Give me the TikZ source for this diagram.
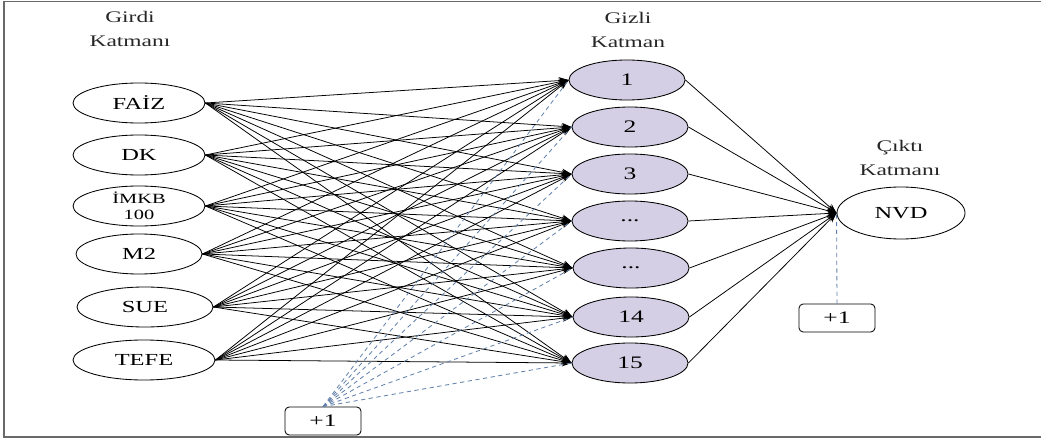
\documentclass[tikz,border=0pt]{standalone}
\usepackage{fontspec}
\setmainfont[FakeStretch=1.45]{Liberation Serif}
\usetikzlibrary{arrows.meta,shapes.geometric}
\definecolor{hidfill}{RGB}{212,207,228}
\definecolor{biasline}{RGB}{100,130,172}
\definecolor{framegray}{RGB}{105,105,105}
\tikzset{
  inpnode/.style={draw, ellipse, line width=0.6pt, minimum width=3.3cm, minimum height=1cm, inner sep=0pt, font=\fontsize{12}{13}\selectfont},
  hidnode/.style={draw, ellipse, line width=0.6pt, fill=hidfill, minimum width=2.9cm, minimum height=1cm, inner sep=0pt, font=\fontsize{12.5}{13}\selectfont},
  outnode/.style={draw, ellipse, line width=0.6pt, minimum width=3.2cm, minimum height=1.3cm, inner sep=0pt, font=\fontsize{12}{13}\selectfont},
  biasbox/.style={draw, rounded corners=3pt, line width=0.6pt, minimum width=1.9cm, minimum height=0.7cm, inner sep=0pt, font=\fontsize{12.5}{13}\selectfont},
  layertitle/.style={align=center, font=\fontsize{11.5}{17}\selectfont, text=black!85},
  wire/.style={line width=0.55pt, -{Stealth[length=7pt,width=5pt]}},
  biaswire/.style={biasline, line width=0.6pt, dashed, dash pattern=on 3pt off 2.5pt}
}
\begin{document}
\begin{tikzpicture}[x=0.025cm, y=-0.025cm]
    \useasboundingbox (0,0) rectangle (1041,439);
    
    % frame
    \draw[framegray, line width=1.2pt] (1045,1.5) -- (4,1.5) -- (4,437) -- (1045,437);
    
    % titles
    \node[layertitle] (tin) at (130,29) {Girdi\\Katmanı};
    \node[layertitle] (thid) at (628,30) {Gizli\\Katman};
    \node[layertitle] (tout) at (900,158) {Çıktı\\Katmanı};
    
    % input layer
    \node[inpnode] (faiz) at (139,103) {FAİZ};
    \node[inpnode] (dk) at (139,155) {DK};
    \node[inpnode, font=\fontsize{10}{11}\selectfont, align=center] (imkb) at (139,206) {İMKB\\100};
    \node[inpnode, minimum width=3.15cm] (mtwo) at (139,254) {M2};
    \node[inpnode, minimum width=3.4cm] (sue) at (145,307) {SUE};
    \node[inpnode, minimum width=3.55cm] (tefe) at (144,360) {TEFE};
    
    % hidden layer
    \node[hidnode] (h1) at (627,80) {1};
    \node[hidnode] (h2) at (630,127) {2};
    \node[hidnode] (h3) at (630,174) {3};
    \node[hidnode] (h4) at (630,221) {...};
    \node[hidnode] (h5) at (631,268) {...};
    \node[hidnode] (h6) at (631,317) {14};
    \node[hidnode] (h7) at (630,363) {15};
    
    % output layer
    \node[outnode] (nvd) at (901,213) {NVD};
    
    % bias units
    \node[biasbox] (bone) at (323,421) {+1};
    \node[biasbox] (btwo) at (837,318) {+1};
    
    % connections
    \foreach \src in {faiz,dk,imkb,mtwo,sue,tefe}
        \foreach \dst in {h1,h2,h3,h4,h5,h6,h7}
            \draw[wire] (\src.east) -- (\dst.west);
    
    \foreach \dst in {h1,h2,h3,h4,h5,h6,h7}
        \draw[biaswire] (bone.north) -- (\dst.west);
    
    \foreach \src in {h1,h2,h3,h4,h5,h6,h7}
        \draw[wire] (\src.east) -- (nvd.west);
    
    \draw[biaswire] (btwo.north) -- (nvd.west);
    
\end{tikzpicture}
\end{document}
